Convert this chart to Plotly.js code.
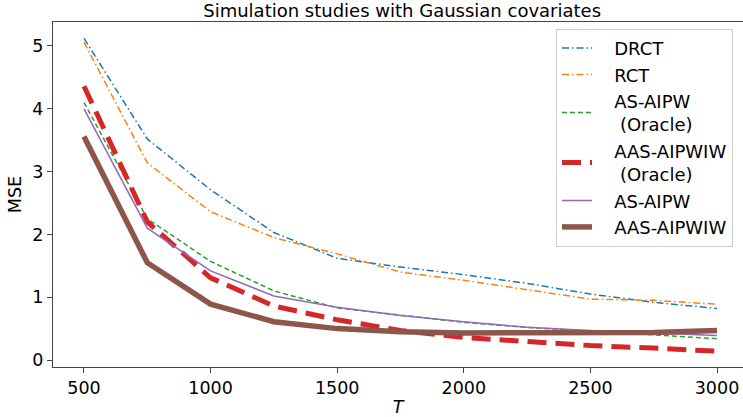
<!DOCTYPE html>
<html>
<head>
<meta charset="utf-8">
<script src="https://cdn.plot.ly/plotly-3.0.1.min.js"></script>
<style>html,body{margin:0;padding:0;overflow:hidden;background:#fff;}</style>
</head>
<body>
<div id="chart" style="width:743px;height:417px;"></div>
<script>
const T = [500, 750, 1000, 1250, 1500, 1750, 2000, 2250, 2500, 2750, 3000];
const drct = [5.12, 3.52, 2.71, 2.03, 1.62, 1.48, 1.36, 1.22, 1.05, 0.92, 0.82];
const rct = [5.06, 3.14, 2.36, 1.95, 1.69, 1.40, 1.27, 1.12, 0.97, 0.95, 0.89];
const asaipwOracle = [4.1, 2.25, 1.57, 1.1, 0.83, 0.71, 0.6, 0.52, 0.46, 0.41, 0.34];
const aasaipwiwOracle = [4.36, 2.2, 1.31, 0.86, 0.64, 0.47, 0.36, 0.29, 0.23, 0.19, 0.14];
const asaipw = [4.0, 2.1, 1.42, 1.02, 0.84, 0.71, 0.61, 0.52, 0.47, 0.43, 0.39];
const aasaipwiw = [3.56, 1.55, 0.89, 0.61, 0.5, 0.45, 0.43, 0.43, 0.43, 0.44, 0.47];

const names = ['DRCT', 'RCT', 'AS-AIPW<br> (Oracle)', 'AAS-AIPWIW<br> (Oracle)', 'AS-AIPW', 'AAS-AIPWIW'];
const series = [drct, rct, asaipwOracle, aasaipwiwOracle, asaipw, aasaipwiw];
const colors = ['#1f77b4', '#ff7f0e', '#2ca02c', '#d62728', '#9467bd', '#8c564b'];
const widths = [1.5, 1.5, 1.5, 5, 1.5, 5.5];
const dashes = ['7px,3px,1.5px,3px', '7px,3px,1.5px,3px', '5px,3px', '19px,9px', 'solid', 'solid'];

const traces = series.map((y, i) => ({
  x: T, y: y, type: 'scatter', mode: 'lines', name: '\u00a0\u00a0\u00a0' + names[i].replace('<br> ', '<br>\u00a0\u00a0\u00a0\u00a0'),
  line: {color: colors[i], width: widths[i], dash: dashes[i]}
}));

const font = {family: 'DejaVu Sans, sans-serif', size: 17.5, color: '#000'};
const layout = {
  width: 743, height: 417,
  margin: {l: 53, r: 0, t: 22, b: 50},
  paper_bgcolor: '#fff', plot_bgcolor: '#fff',
  font: font,
  showlegend: true,
  title: {text: 'Simulation studies with Gaussian covariates', font: {family: 'DejaVu Sans, sans-serif', size: 18, color: '#000'},
          xref: 'paper', x: 0.506, xanchor: 'center', y: 0.974, yanchor: 'middle'},
  xaxis: {
    range: [377.6, 3102.7], tickvals: [500, 1000, 1500, 2000, 2500, 3000],
    showgrid: false, zeroline: false, showline: true, linecolor: '#444', linewidth: 1.2, mirror: true,
    ticks: 'outside', ticklen: 5, tickcolor: '#444', tickfont: font,
    title: {text: '<i>T</i>', font: font, standoff: 3}
  },
  yaxis: {
    range: [-0.111, 5.382], tickvals: [0, 1, 2, 3, 4, 5],
    showgrid: false, zeroline: false, showline: true, linecolor: '#444', linewidth: 1.2,
    ticks: 'outside', ticklen: 5, tickcolor: '#444', tickfont: font,
    title: {text: 'MSE', font: font, standoff: 6}
  },
  legend: {
    x: 0.729, y: 0.98, xanchor: 'left', yanchor: 'top',
    bgcolor: '#fff', bordercolor: '#ccc', borderwidth: 1,
    font: {family: 'DejaVu Sans, sans-serif', size: 18, color: '#000'},
    tracegroupgap: 0
  }
};
Plotly.newPlot('chart', traces, layout, {displayModeBar: false, staticPlot: true});
</script>
</body>
</html>
